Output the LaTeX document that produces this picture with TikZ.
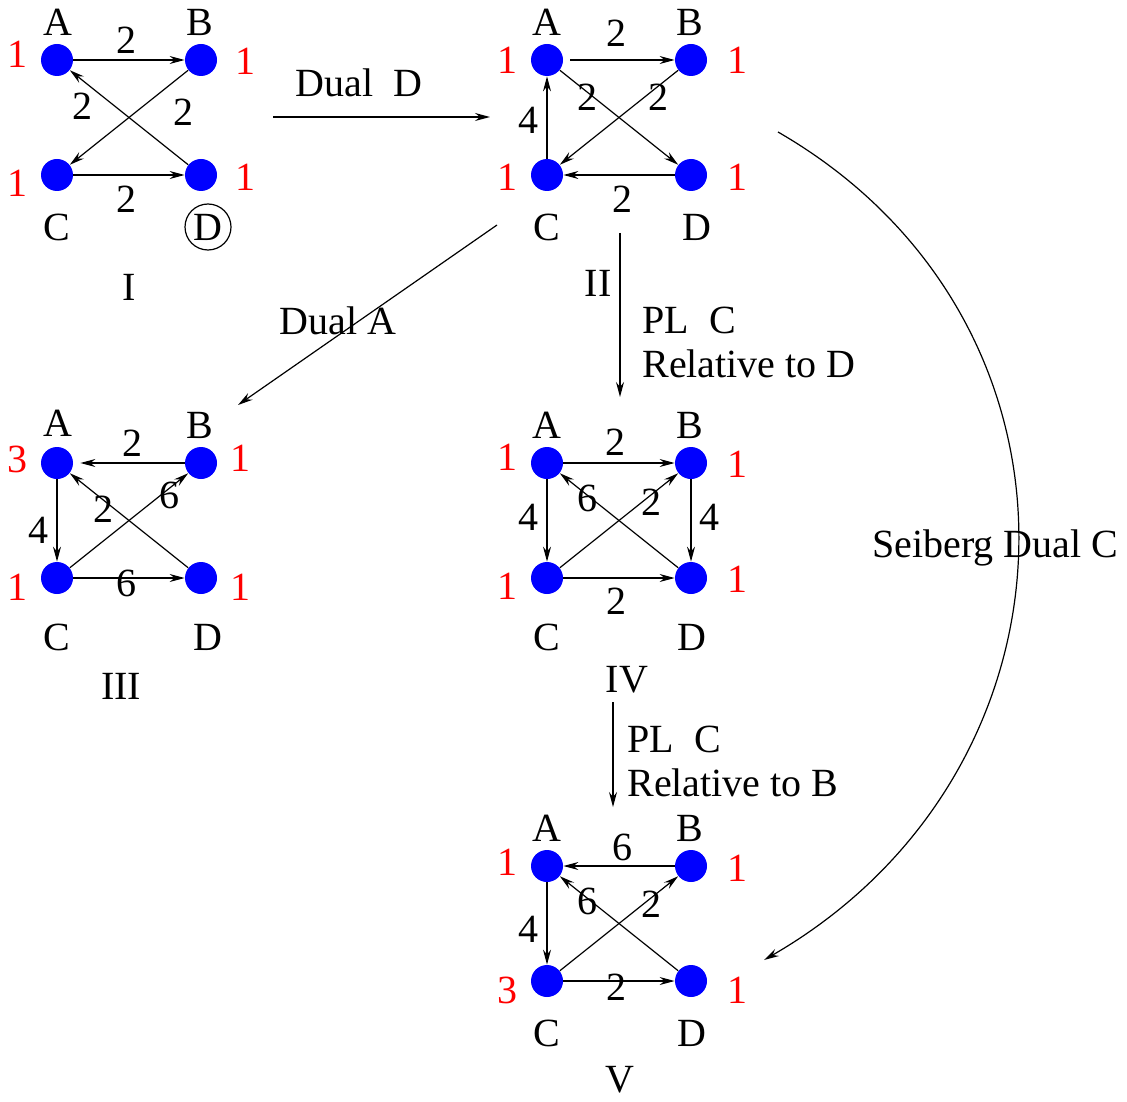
\documentclass[tikz,border=0pt]{standalone}
\usepackage{fontspec}
\setmainfont{Liberation Serif}
\newfontfamily\quivfont{Liberation Serif}
\usepackage{xcolor}
\usetikzlibrary{arrows.meta}
\definecolor{qblue}{HTML}{0000FF}
\definecolor{rred}{HTML}{FF0000}
\newcommand\lblfont{\quivfont\fontsize{20}{22}\selectfont}
\tikzset{
  quiv/.style={circle, fill=qblue, minimum size=16pt, inner sep=0pt},
  lbl/.style={font=\lblfont, inner sep=0pt},
  rank/.style={lbl, text=rred},
  arr/.style={draw, line width=0.6pt, -{Stealth[length=7.5pt,width=4pt,inset=2.5pt]}},
  move/.style={arr}
}

\begin{document}
\begin{tikzpicture}[x=0.5pt,y=0.5pt]
  \useasboundingbox (0,0) rectangle (1127,-1101);

  % quiver I
  \begin{scope}[shift={(57,-60)}]
    \node[quiv] (a1) at (0,0) {};
    \node[quiv] (b1) at (144,0) {};
    \node[quiv] (c1) at (0,-115) {};
    \node[quiv] (d1) at (144,-115) {};
    \draw[arr] (a1) -- (b1);
    \draw[arr] (b1) -- (c1);
    \draw[arr] (c1) -- (d1);
    \draw[arr] (d1) -- (a1);
    \node[lbl] (ta1) at (1,38) {A};
    \node[lbl] (tb1) at (143,38) {B};
    \node[lbl] (tc1) at (0,-167) {C};
    \node[lbl, circle, draw, line width=0.6pt, minimum size=23pt] (td1) at (151,-167) {D};
    \node[rank] (ra1) at (-40,6) {1};
    \node[rank] (rb1) at (188,-1) {1};
    \node[rank] (rc1) at (-40,-123) {1};
    \node[rank] (rd1) at (188,-117) {1};
    \node[lbl] (w1ab) at (69,20) {2};
    \node[lbl] (w1bc) at (126,-52) {2};
    \node[lbl] (w1da) at (25,-46) {2};
    \node[lbl] (w1cd) at (69,-139) {2};
    \node[lbl] (n1) at (72,-227) {I};
  \end{scope}

  % quiver II
  \begin{scope}[shift={(547,-60)}]
    \node[quiv] (a2) at (0,0) {};
    \node[quiv] (b2) at (144,0) {};
    \node[quiv] (c2) at (0,-115) {};
    \node[quiv] (d2) at (144,-115) {};
    \draw[arr, shorten <=3.5pt] (a2) -- (b2);
    \draw[arr] (a2) -- (d2);
    \draw[arr] (b2) -- (c2);
    \draw[arr] (d2) -- (c2);
    \draw[arr] (c2) -- (a2);
    \node[lbl] (ta2) at (0,38) {A};
    \node[lbl] (tb2) at (143,38) {B};
    \node[lbl] (tc2) at (0,-167) {C};
    \node[lbl] (td2) at (150,-167) {D};
    \node[rank] (ra2) at (-40,0) {1};
    \node[rank] (rb2) at (190,0) {1};
    \node[rank] (rc2) at (-40,-117) {1};
    \node[rank] (rd2) at (190,-117) {1};
    \node[lbl] (w2ab) at (69,27) {2};
    \node[lbl] (w2ad) at (40,-37) {2};
    \node[lbl] (w2bc) at (111,-37) {2};
    \node[lbl] (w2ca) at (-19,-60) {4};
    \node[lbl] (w2dc) at (75,-139) {2};
    \node[lbl] (n2) at (51,-223) {II};
  \end{scope}

  % quiver III
  \begin{scope}[shift={(57,-463)}]
    \node[quiv] (a3) at (0,0) {};
    \node[quiv] (b3) at (144,0) {};
    \node[quiv] (c3) at (0,-115) {};
    \node[quiv] (d3) at (144,-115) {};
    \draw[arr, shorten >=3.5pt] (b3) -- (a3);
    \draw[arr] (d3) -- (a3);
    \draw[arr] (a3) -- (c3);
    \draw[arr] (c3) -- (d3);
    \draw[arr] (c3) -- (b3);
    \node[lbl] (ta3) at (1,40) {A};
    \node[lbl] (tb3) at (143,38) {B};
    \node[lbl] (tc3) at (0,-174) {C};
    \node[lbl] (td3) at (151,-174) {D};
    \node[rank] (ra3) at (-40,4) {3};
    \node[rank] (rb3) at (183,5) {1};
    \node[rank] (rc3) at (-40,-124) {1};
    \node[rank] (rd3) at (183,-124) {1};
    \node[lbl] (w3ba) at (75,20) {2};
    \node[lbl] (w3da) at (46,-46) {2};
    \node[lbl] (w3cb) at (112,-32) {6};
    \node[lbl] (w3ac) at (-19,-67) {4};
    \node[lbl] (w3cd) at (69,-120) {6};
    \node[lbl] (n3) at (64,-223) {III};
  \end{scope}

  % quiver IV
  \begin{scope}[shift={(547,-463)}]
    \node[quiv] (a4) at (0,0) {};
    \node[quiv] (b4) at (144,0) {};
    \node[quiv] (c4) at (0,-115) {};
    \node[quiv] (d4) at (144,-115) {};
    \draw[arr] (a4) -- (b4);
    \draw[arr] (a4) -- (c4);
    \draw[arr] (b4) -- (d4);
    \draw[arr] (c4) -- (d4);
    \draw[arr] (c4) -- (b4);
    \draw[arr] (d4) -- (a4);
    \node[lbl] (ta4) at (0,38) {A};
    \node[lbl] (tb4) at (143,38) {B};
    \node[lbl] (tc4) at (0,-174) {C};
    \node[lbl] (td4) at (145,-174) {D};
    \node[rank] (ra4) at (-40,6) {1};
    \node[rank] (rb4) at (190,-1) {1};
    \node[rank] (rc4) at (-40,-123) {1};
    \node[rank] (rd4) at (190,-116) {1};
    \node[lbl] (w4ab) at (68,21) {2};
    \node[lbl] (w4da) at (40,-35) {6};
    \node[lbl] (w4cb) at (104,-39) {2};
    \node[lbl] (w4ac) at (-19,-54) {4};
    \node[lbl] (w4bd) at (162,-54) {4};
    \node[lbl] (w4cd) at (69,-138) {2};
    \node[lbl] (n4) at (80,-217) {IV};
  \end{scope}

  % quiver V
  \begin{scope}[shift={(547,-866)}]
    \node[quiv] (a5) at (0,0) {};
    \node[quiv] (b5) at (144,0) {};
    \node[quiv] (c5) at (0,-115) {};
    \node[quiv] (d5) at (144,-115) {};
    \draw[arr] (b5) -- (a5);
    \draw[arr] (a5) -- (c5);
    \draw[arr] (c5) -- (b5);
    \draw[arr] (c5) -- (d5);
    \draw[arr] (d5) -- (a5);
    \node[lbl] (ta5) at (0,38) {A};
    \node[lbl] (tb5) at (143,38) {B};
    \node[lbl] (tc5) at (0,-167) {C};
    \node[lbl] (td5) at (145,-167) {D};
    \node[rank] (ra5) at (-40,4) {1};
    \node[rank] (rb5) at (190,-2) {1};
    \node[rank] (rc5) at (-40,-124) {3};
    \node[rank] (rd5) at (190,-124) {1};
    \node[lbl] (w5ba) at (75,19) {6};
    \node[lbl] (w5da) at (40,-35) {6};
    \node[lbl] (w5cb) at (104,-38) {2};
    \node[lbl] (w5ac) at (-19,-63) {4};
    \node[lbl] (w5cd) at (69,-121) {2};
    \node[lbl] (n5) at (73,-214) {V};
  \end{scope}

  % moves between quivers
  \coordinate (dD1) at (273,-117);
  \coordinate (dD2) at (490,-117);
  \draw[move] (dD1) -- (dD2);
  \node[lbl] (tdD) at (359,-83) {Dual~~D};

  \coordinate (dA1) at (497,-225);
  \coordinate (dA2) at (238,-405);
  \draw[move] (dA1) -- (dA2);
  \node[lbl] (tdA) at (338,-321) {Dual A};

  \coordinate (pD1) at (620,-233);
  \coordinate (pD2) at (620,-397);
  \draw[move] (pD1) -- (pD2);
  \node[lbl, align=left, anchor=west] (tpD) at (642,-342) {PL~~C\\Relative to D};

  \coordinate (pB1) at (613,-702);
  \coordinate (pB2) at (613,-807);
  \draw[move] (pB1) -- (pB2);
  \node[lbl, align=left, anchor=west] (tpB) at (627,-761) {PL~~C\\Relative to B};

  \coordinate (sd1) at (778,-132);
  \coordinate (sd2) at (764,-960);
  \draw[move] (sd1) .. controls +(-30:380) and +(30:380) .. (sd2);
  \node[lbl, anchor=base west] (tsd) at (872,-557) {Seiberg Dual C};
\end{tikzpicture}
\end{document}
